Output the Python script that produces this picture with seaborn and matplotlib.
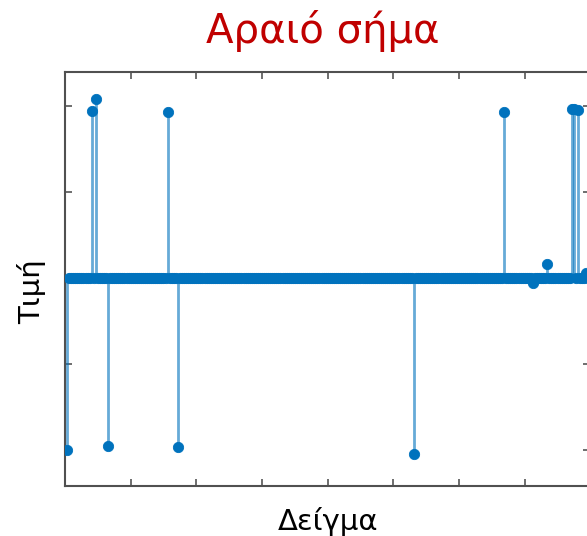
import numpy as np
import pandas as pd
import matplotlib
matplotlib.use("Agg")
import matplotlib.pyplot as plt
import seaborn as sns

# Sparse signal: length and the few non-zero samples
n_samples = 256
spike_index = [1, 13, 15, 21, 50, 55, 170, 214, 228, 235, 247, 248, 250, 254]
spike_value = [-2.00, 1.95, 2.08, -1.95, 1.93, -1.97, -2.05, 1.93, -0.06, 0.17,
               1.97, 1.97, 1.96, 0.06]

sns.set_theme(style="white")
plt.rcParams["font.family"] = ["DejaVu Sans"]

sample = np.arange(1, n_samples + 1)
value = np.zeros(n_samples)
value[np.array(spike_index) - 1] = spike_value
df = pd.DataFrame({"Δείγμα": sample, "Τιμή": value})

blue = "#0072BD"
fig = plt.figure(figsize=(5.87, 5.36), dpi=100)
ax = fig.add_axes([0.1107, 0.0933, 0.895, 0.7724])

# stems
nz = df[df["Τιμή"] != 0]
ax.vlines(nz["Δείγμα"], 0, nz["Τιμή"], color=blue, alpha=0.6, lw=2.0, zorder=2)
# markers
sns.scatterplot(data=df, x="Δείγμα", y="Τιμή", ax=ax, color=blue, s=55,
                edgecolor=blue, linewidth=0.6, zorder=3, legend=False)

ax.set_xlim(0, 256)
ax.set_ylim(-2.42, 2.4)
ax.set_xticks(np.arange(0, 257, 32))
ax.set_yticks([-2, -1, 0, 1, 2])
ax.tick_params(axis="both", which="both", direction="in", length=5, width=1.2,
               color="#555555", labelbottom=False, labelleft=False,
               top=True, right=True, bottom=True, left=True)
for sp in ax.spines.values():
    sp.set_color("#505050")
    sp.set_linewidth(1.5)

ax.set_xlabel("Δείγμα", fontsize=21, labelpad=15, color="black")
ax.set_ylabel("Τιμή", fontsize=21, color="black")
ax.yaxis.set_label_coords(-0.035, 0.47)
fig.text(0.55, 0.942, "Αραιό σήμα", ha="center", va="center",
         fontsize=29, color="#C00000")

fig.savefig("out.png", dpi=100, facecolor="white")
